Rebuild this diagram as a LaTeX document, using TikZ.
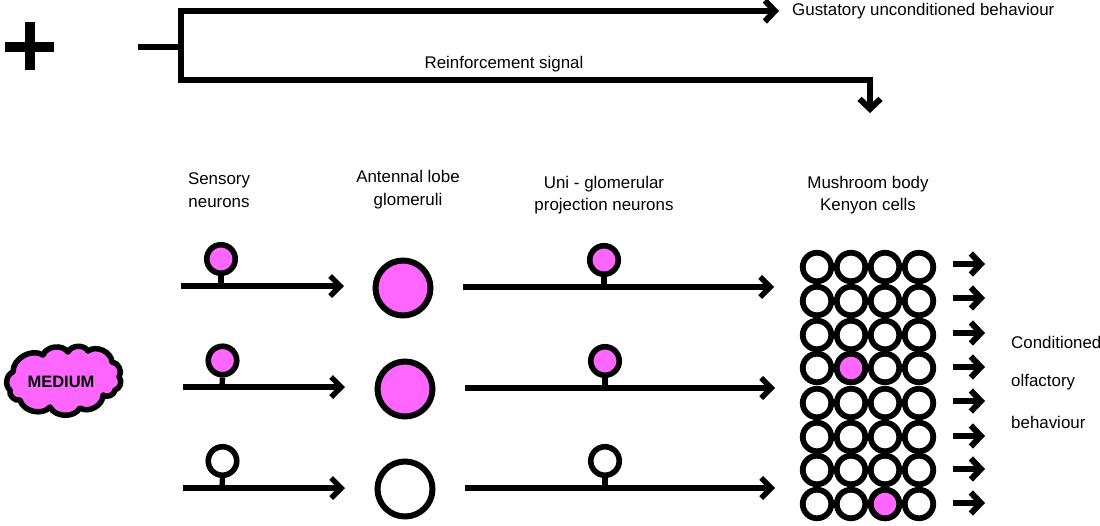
\documentclass[tikz,border=0pt]{standalone}
\usepackage{fontspec}
\setmainfont{Liberation Sans}
\usetikzlibrary{arrows.meta}
\definecolor{pinkfill}{HTML}{FF66FF}
\tikzset{
  lbl/.style={font=\fontsize{16.9}{19}\selectfont,inner sep=0pt,align=center},
  wire/.style={line width=5.4pt,line cap=butt,line join=miter},
  sig/.style={wire,-{Straight Barb[length=10pt,width=20pt,line width=5.4pt]}},
  stub/.style={line width=6pt,-{Straight Barb[length=10pt,width=21pt,line width=6pt]}},
  main/.style={line width=6pt,line join=miter},
  soma/.style={circle,draw,line width=5.6pt,minimum size=28.5pt,inner sep=0pt},
  glom/.style={circle,draw,line width=6pt,minimum size=55pt,inner sep=0pt},
  kc/.style={circle,draw,line width=5.8pt,minimum size=28.5pt,inner sep=0pt},
  on/.style={fill=pinkfill},
  off/.style={fill=white},
  puff/.style={bend left=62}
}
\begin{document}
\begin{tikzpicture}[x=1pt,y=-1pt]
\useasboundingbox (0,0) rectangle (1100,525);
% plus sign
\coordinate (pl) at (5,47); \coordinate (pr) at (54,47);
\coordinate (pt) at (30,22); \coordinate (pb) at (30,70);
\draw[line width=9.5pt] (pl) -- (pr);
\draw[line width=9.5pt] (pt) -- (pb);
% US input
\coordinate (us) at (138,47); \coordinate (usj) at (181,47);
\coordinate (c1) at (181,11); \coordinate (c2) at (181,80);
\coordinate (ur) at (779,11); \coordinate (rc) at (870,80); \coordinate (rd) at (870,113);
\draw[main] (us) -- (usj);
\draw[main] ([yshift=3pt]c1) -- ([yshift=-3pt]c2);
\draw[main,-{Straight Barb[length=10pt,width=21pt,line width=6pt]}] (c1) -- (ur);
\draw[main,-{Straight Barb[length=10pt,width=21pt,line width=6pt]}] (c2) -- (rc) -- (rd);
\node[lbl,anchor=west] (gust) at (792,11) {Gustatory unconditioned behaviour};
\node[lbl] (rein) at (504,64) {Reinforcement signal};
% headers
\node[lbl] (hs) at (219,190) {Sensory\\[4pt]neurons};
\node[lbl] (ha) at (408,189.5) {Antennal lobe\\[4pt]glomeruli};
\node[lbl] (hp) at (604,195) {Uni - glomerular\\[3pt]projection neurons};
\node[lbl] (hm) at (868,195) {Mushroom body\\[3pt]Kenyon cells};
% medium
\draw[line width=5.5pt,fill=pinkfill,line join=round]
  (13,372) to[puff] (43,355) to[puff] (68,352) to[puff] (88,351) to[puff] (112,362)
  to[puff] (119,377) to[puff] (115,390) to[puff] (103,395) to[puff] (80,408)
  to[puff] (50,407) to[puff] (20,400) to[puff] (10,390) to[puff] cycle;
\node[font=\bfseries\fontsize{16.5}{18}\selectfont,inner sep=0pt] (medt) at (61,382) {MEDIUM};
% row 1
\coordinate (a1s) at (181,286); \coordinate (a1e) at (344,286); \coordinate (a1j) at (221,286);
\node[soma,on] (s1) at (221,259) {};
\draw[wire] (s1.south) -- (a1j);
\draw[sig] (a1s) -- (a1e);
\node[glom,on] (g1) at (403,288) {};
\coordinate (p1s) at (463,287); \coordinate (p1e) at (774,287); \coordinate (p1j) at (604,287);
\node[soma,on] (n1) at (604,260) {};
\draw[wire] (n1.south) -- (p1j);
\draw[sig] (p1s) -- (p1e);
% row 2
\coordinate (a2s) at (183,387); \coordinate (a2e) at (345,387); \coordinate (a2j) at (222,387);
\node[soma,on] (s2) at (222.5,360.5) {};
\draw[wire] (s2.south) -- (a2j);
\draw[sig] (a2s) -- (a2e);
\node[glom,on] (g2) at (405,389) {};
\coordinate (p2s) at (465,388); \coordinate (p2e) at (775,388); \coordinate (p2j) at (605,388);
\node[soma,on] (n2) at (605,361) {};
\draw[wire] (n2.south) -- (p2j);
\draw[sig] (p2s) -- (p2e);
% row 3
\coordinate (a3s) at (183,488); \coordinate (a3e) at (345,488); \coordinate (a3j) at (222,488);
\node[soma,off] (s3) at (222.5,461) {};
\draw[wire] (s3.south) -- (a3j);
\draw[sig] (a3s) -- (a3e);
\node[glom,off] (g3) at (405,489) {};
\coordinate (p3s) at (465,488); \coordinate (p3e) at (775,488); \coordinate (p3j) at (605,488);
\node[soma,off] (n3) at (605,461) {};
\draw[wire] (n3.south) -- (p3j);
\draw[sig] (p3s) -- (p3e);
% Kenyon cells
\foreach \r/\y/\ay in {1/267/264,2/301/298,3/335/333,4/368/367,5/403/401,6/437/436,7/470/469,8/504/503}{
  \foreach \c/\x in {1/817,2/851,3/885,4/919}{
    \node[kc,off] (k\r\c) at (\x,\y) {};
  }
  \coordinate (os\r) at (953,\ay); \coordinate (oe\r) at (985,\ay);
  \draw[stub] (os\r) -- (oe\r);
}
\node[kc,on] (k42) at (851,368) {};
\node[kc,on] (k83) at (885,504) {};
\node[lbl,anchor=west] (b1) at (1011,342.5) {Conditioned};
\node[lbl,anchor=west] (b2) at (1011,382.5) {olfactory};
\node[lbl,anchor=west] (b3) at (1011,422.5) {behaviour};
\end{tikzpicture}
\end{document}
